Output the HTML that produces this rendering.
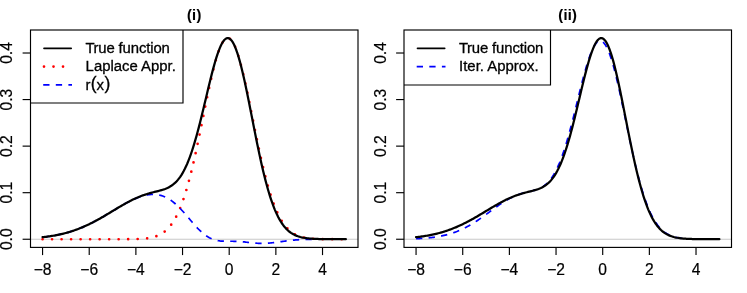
<!DOCTYPE html>
<html><head><meta charset="utf-8"><title>plot</title>
<style>
html,body{margin:0;padding:0;background:#fff;}
svg{display:block;will-change:transform;}
text{font-family:"Liberation Sans",sans-serif;fill:#000;stroke:#000;stroke-width:0.3px;}
.lg{font-size:14.9px;}
.ax{font-size:15.6px;stroke-width:0.2px;}
.ttl{font-size:14.5px;font-weight:bold;stroke-width:0.1px;letter-spacing:0.3px;}
.blk{fill:none;stroke:#000;stroke-width:2.25;stroke-linejoin:round;stroke-linecap:round;}
.red{fill:none;stroke:#ff0000;stroke-width:2.7;stroke-linecap:round;stroke-dasharray:0 9.51;stroke-linejoin:round;}
.blue{fill:none;stroke:#0000ff;stroke-width:1.7;stroke-linecap:butt;stroke-dasharray:6.3 6.3;stroke-linejoin:round;}
</style></head><body>
<svg width="747" height="293" viewBox="0 0 747 293">
<rect width="747" height="293" fill="#fff"/>
<line x1="30.5" y1="239.25" x2="358.0" y2="239.25" stroke="#bebebe" stroke-width="0.85"/>
<path d="M42.56 239.25 L43.73 239.25 L44.89 239.25 L46.06 239.25 L47.23 239.25 L48.39 239.25 L49.56 239.25 L50.73 239.25 L51.89 239.25 L53.06 239.25 L54.22 239.25 L55.39 239.25 L56.56 239.25 L57.72 239.25 L58.89 239.25 L60.06 239.25 L61.22 239.25 L62.39 239.25 L63.56 239.25 L64.72 239.25 L65.89 239.25 L67.06 239.25 L68.22 239.25 L69.39 239.25 L70.56 239.25 L71.72 239.25 L72.89 239.25 L74.06 239.25 L75.22 239.25 L76.39 239.25 L77.56 239.25 L78.72 239.25 L79.89 239.25 L81.05 239.25 L82.22 239.25 L83.39 239.25 L84.55 239.25 L85.72 239.25 L86.89 239.25 L88.05 239.25 L89.22 239.25 L90.39 239.25 L91.55 239.25 L92.72 239.25 L93.89 239.25 L95.05 239.25 L96.22 239.25 L97.39 239.25 L98.55 239.25 L99.72 239.25 L100.88 239.25 L102.05 239.25 L103.22 239.25 L104.38 239.25 L105.55 239.25 L106.72 239.25 L107.88 239.25 L109.05 239.25 L110.22 239.25 L111.38 239.25 L112.55 239.25 L113.72 239.25 L114.88 239.24 L116.05 239.24 L117.22 239.24 L118.38 239.24 L119.55 239.24 L120.72 239.23 L121.88 239.23 L123.05 239.23 L124.22 239.22 L125.38 239.21 L126.55 239.21 L127.71 239.20 L128.88 239.18 L130.05 239.17 L131.21 239.16 L132.38 239.14 L133.55 239.11 L134.71 239.09 L135.88 239.06 L137.05 239.02 L138.21 238.97 L139.38 238.92 L140.55 238.86 L141.71 238.79 L142.88 238.71 L144.05 238.62 L145.21 238.51 L146.38 238.38 L147.54 238.23 L148.71 238.07 L149.88 237.87 L151.04 237.65 L152.21 237.40 L153.38 237.12 L154.54 236.79 L155.71 236.43 L156.88 236.01 L158.04 235.55 L159.21 235.02 L160.38 234.43 L161.54 233.77 L162.71 233.04 L163.88 232.22 L165.04 231.31 L166.21 230.31 L167.38 229.20 L168.54 227.98 L169.71 226.64 L170.88 225.17 L172.04 223.56 L173.21 221.81 L174.37 219.91 L175.54 217.85 L176.71 215.62 L177.87 213.22 L179.04 210.63 L180.21 207.87 L181.37 204.91 L182.54 201.76 L183.71 198.41 L184.87 194.86 L186.04 191.10 L187.21 187.15 L188.37 183.00 L189.54 178.66 L190.71 174.12 L191.87 169.41 L193.04 164.51 L194.20 159.46 L195.37 154.25 L196.54 148.91 L197.70 143.44 L198.87 137.87 L200.04 132.22 L201.20 126.50 L202.37 120.75 L203.54 114.98 L204.70 109.22 L205.87 103.49 L207.04 97.83 L208.20 92.27 L209.37 86.82 L210.54 81.53 L211.70 76.42 L212.87 71.52 L214.04 66.86 L215.20 62.47 L216.37 58.37 L217.53 54.58 L218.70 51.14 L219.87 48.07 L221.03 45.38 L222.20 43.08 L223.37 41.21 L224.53 39.77 L225.70 38.76 L226.87 38.20 L228.03 38.09 L229.20 38.43 L230.37 39.21 L231.53 40.44 L232.70 42.10 L233.87 44.19 L235.03 46.68 L236.20 49.57 L237.37 52.83 L238.53 56.45 L239.70 60.39 L240.86 64.65 L242.03 69.18 L243.20 73.96 L244.36 78.97 L245.53 84.18 L246.70 89.55 L247.86 95.06 L249.03 100.67 L250.20 106.37 L251.36 112.12 L252.53 117.89 L253.70 123.65 L254.86 129.39 L256.03 135.08 L257.20 140.69 L258.36 146.21 L259.53 151.62 L260.70 156.89 L261.86 162.03 L263.03 167.00 L264.19 171.81 L265.36 176.43 L266.53 180.87 L267.69 185.12 L268.86 189.17 L270.03 193.02 L271.19 196.67 L272.36 200.12 L273.53 203.37 L274.69 206.42 L275.86 209.29 L277.03 211.96 L278.19 214.45 L279.36 216.76 L280.53 218.91 L281.69 220.89 L282.86 222.71 L284.03 224.39 L285.19 225.92 L286.36 227.33 L287.52 228.61 L288.69 229.77 L289.86 230.83 L291.02 231.78 L292.19 232.64 L293.36 233.42 L294.52 234.11 L295.69 234.74 L296.86 235.29 L298.02 235.79 L299.19 236.23 L300.36 236.62 L301.52 236.96 L302.69 237.27 L303.86 237.53 L305.02 237.77 L306.19 237.97 L307.36 238.15 L308.52 238.31 L309.69 238.45 L310.86 238.56 L312.02 238.67 L313.19 238.75 L314.35 238.83 L315.52 238.89 L316.69 238.95 L317.85 239.00 L319.02 239.04 L320.19 239.07 L321.35 239.10 L322.52 239.13 L323.69 239.15 L324.85 239.16 L326.02 239.18 L327.19 239.19 L328.35 239.20 L329.52 239.21 L330.69 239.22 L331.85 239.22 L333.02 239.23 L334.18 239.23 L335.35 239.24 L336.52 239.24 L337.68 239.24 L338.85 239.24 L340.02 239.24 L341.18 239.24 L342.35 239.25 L343.52 239.25 L344.68 239.25 L345.85 239.25" class="red"/>
<path d="M42.56 237.21 L43.73 237.08 L44.89 236.94 L46.06 236.80 L47.23 236.64 L48.39 236.48 L49.56 236.31 L50.73 236.14 L51.89 235.95 L53.06 235.76 L54.22 235.56 L55.39 235.34 L56.56 235.12 L57.72 234.89 L58.89 234.65 L60.06 234.39 L61.22 234.13 L62.39 233.86 L63.56 233.57 L64.72 233.27 L65.89 232.97 L67.06 232.65 L68.22 232.31 L69.39 231.97 L70.56 231.61 L71.72 231.24 L72.89 230.86 L74.06 230.47 L75.22 230.06 L76.39 229.64 L77.56 229.21 L78.72 228.76 L79.89 228.30 L81.05 227.83 L82.22 227.35 L83.39 226.85 L84.55 226.34 L85.72 225.82 L86.89 225.28 L88.05 224.73 L89.22 224.17 L90.39 223.60 L91.55 223.02 L92.72 222.43 L93.89 221.82 L95.05 221.21 L96.22 220.58 L97.39 219.95 L98.55 219.30 L99.72 218.65 L100.88 217.99 L102.05 217.32 L103.22 216.65 L104.38 215.97 L105.55 215.28 L106.72 214.59 L107.88 213.89 L109.05 213.19 L110.22 212.49 L111.38 211.79 L112.55 211.09 L113.72 210.38 L114.88 209.68 L116.05 208.98 L117.22 208.28 L118.38 207.59 L119.55 206.90 L120.72 206.22 L121.88 205.55 L123.05 204.88 L124.22 204.22 L125.38 203.57 L126.55 202.94 L127.71 202.31 L128.88 201.70 L130.05 201.11 L131.21 200.53 L132.38 199.97 L133.55 199.43 L134.71 198.91 L135.88 198.40 L137.05 197.93 L138.21 197.47 L139.38 197.04 L140.55 196.64 L141.71 196.26 L142.88 195.92 L144.05 195.60 L145.21 195.32 L146.38 195.07 L147.54 194.86 L148.71 194.69 L149.88 194.55 L151.04 194.45 L152.21 194.40 L153.38 194.38 L154.54 194.42 L155.71 194.49 L156.88 194.62 L158.04 194.80 L159.21 195.02 L160.38 195.30 L161.54 195.63 L162.71 196.02 L163.88 196.46 L165.04 196.96 L166.21 197.51 L167.38 198.12 L168.54 198.79 L169.71 199.52 L170.88 200.31 L172.04 201.15 L173.21 202.04 L174.37 203.00 L175.54 204.00 L176.71 205.06 L177.87 206.16 L179.04 207.31 L180.21 208.50 L181.37 209.73 L182.54 211.00 L183.71 212.30 L184.87 213.62 L186.04 214.96 L187.21 216.32 L188.37 217.69 L189.54 219.06 L190.71 220.44 L191.87 221.80 L193.04 223.15 L194.20 224.48 L195.37 225.79 L196.54 227.06 L197.70 228.30 L198.87 229.49 L200.04 230.64 L201.20 231.74 L202.37 232.78 L203.54 233.76 L204.70 234.68 L205.87 235.54 L207.04 236.33 L208.20 237.06 L209.37 237.71 L210.54 238.31 L211.70 238.83 L212.87 239.30 L214.04 239.70 L215.20 240.05 L216.37 240.34 L217.53 240.58 L218.70 240.78 L219.87 240.93 L221.03 241.05 L222.20 241.13 L223.37 241.19 L224.53 241.23 L225.70 241.25 L226.87 241.26 L228.03 241.26 L229.20 241.26 L230.37 241.26 L231.53 241.26 L232.70 241.27 L233.87 241.28 L235.03 241.31 L236.20 241.35 L237.37 241.40 L238.53 241.47 L239.70 241.54 L240.86 241.63 L242.03 241.74 L243.20 241.85 L244.36 241.97 L245.53 242.10 L246.70 242.23 L247.86 242.37 L249.03 242.50 L250.20 242.63 L251.36 242.76 L252.53 242.88 L253.70 243.00 L254.86 243.10 L256.03 243.19 L257.20 243.26 L258.36 243.32 L259.53 243.37 L260.70 243.39 L261.86 243.40 L263.03 243.40 L264.19 243.37 L265.36 243.33 L266.53 243.27 L267.69 243.20 L268.86 243.11 L270.03 243.00 L271.19 242.89 L272.36 242.76 L273.53 242.63 L274.69 242.48 L275.86 242.34 L277.03 242.18 L278.19 242.02 L279.36 241.86 L280.53 241.70 L281.69 241.54 L282.86 241.38 L284.03 241.22 L285.19 241.07 L286.36 240.92 L287.52 240.78 L288.69 240.64 L289.86 240.51 L291.02 240.39 L292.19 240.27 L293.36 240.16 L294.52 240.06 L295.69 239.96 L296.86 239.88 L298.02 239.80 L299.19 239.72 L300.36 239.66 L301.52 239.60 L302.69 239.54 L303.86 239.49 L305.02 239.45 L306.19 239.41 L307.36 239.38 L308.52 239.35 L309.69 239.32 L310.86 239.30 L312.02 239.28 L313.19 239.27 L314.35 239.25 L315.52 239.24 L316.69 239.23 L317.85 239.23 L319.02 239.22 L320.19 239.22 L321.35 239.21 L322.52 239.21 L323.69 239.21 L324.85 239.21 L326.02 239.21 L327.19 239.21 L328.35 239.21 L329.52 239.21 L330.69 239.21 L331.85 239.22 L333.02 239.22 L334.18 239.22 L335.35 239.22 L336.52 239.22 L337.68 239.23 L338.85 239.23 L340.02 239.23 L341.18 239.23 L342.35 239.23 L343.52 239.23 L344.68 239.23 L345.85 239.24" class="blue"/>
<path d="M42.56 237.21 L43.73 237.08 L44.89 236.94 L46.06 236.80 L47.23 236.64 L48.39 236.48 L49.56 236.31 L50.73 236.14 L51.89 235.95 L53.06 235.76 L54.22 235.56 L55.39 235.34 L56.56 235.12 L57.72 234.89 L58.89 234.65 L60.06 234.39 L61.22 234.13 L62.39 233.86 L63.56 233.57 L64.72 233.27 L65.89 232.97 L67.06 232.65 L68.22 232.31 L69.39 231.97 L70.56 231.61 L71.72 231.24 L72.89 230.86 L74.06 230.47 L75.22 230.06 L76.39 229.64 L77.56 229.21 L78.72 228.76 L79.89 228.30 L81.05 227.83 L82.22 227.35 L83.39 226.85 L84.55 226.34 L85.72 225.82 L86.89 225.28 L88.05 224.73 L89.22 224.17 L90.39 223.60 L91.55 223.02 L92.72 222.43 L93.89 221.82 L95.05 221.21 L96.22 220.58 L97.39 219.95 L98.55 219.30 L99.72 218.65 L100.88 217.99 L102.05 217.32 L103.22 216.65 L104.38 215.97 L105.55 215.28 L106.72 214.59 L107.88 213.89 L109.05 213.19 L110.22 212.49 L111.38 211.79 L112.55 211.08 L113.72 210.38 L114.88 209.68 L116.05 208.97 L117.22 208.28 L118.38 207.58 L119.55 206.89 L120.72 206.20 L121.88 205.53 L123.05 204.85 L124.22 204.19 L125.38 203.54 L126.55 202.89 L127.71 202.26 L128.88 201.64 L130.05 201.03 L131.21 200.44 L132.38 199.85 L133.55 199.29 L134.71 198.74 L135.88 198.21 L137.05 197.69 L138.21 197.19 L139.38 196.71 L140.55 196.25 L141.71 195.80 L142.88 195.37 L144.05 194.96 L145.21 194.57 L146.38 194.20 L147.54 193.84 L148.71 193.49 L149.88 193.16 L151.04 192.84 L152.21 192.53 L153.38 192.23 L154.54 191.93 L155.71 191.64 L156.88 191.35 L158.04 191.05 L159.21 190.75 L160.38 190.43 L161.54 190.10 L162.71 189.74 L163.88 189.36 L165.04 188.94 L166.21 188.48 L167.38 187.97 L168.54 187.41 L169.71 186.78 L170.88 186.08 L172.04 185.30 L173.21 184.43 L174.37 183.46 L175.54 182.38 L176.71 181.19 L177.87 179.87 L179.04 178.41 L180.21 176.81 L181.37 175.05 L182.54 173.13 L183.71 171.04 L184.87 168.78 L186.04 166.34 L187.21 163.70 L188.37 160.88 L189.54 157.87 L190.71 154.66 L191.87 151.26 L193.04 147.67 L194.20 143.89 L195.37 139.94 L196.54 135.82 L197.70 131.53 L198.87 127.10 L200.04 122.54 L201.20 117.86 L202.37 113.09 L203.54 108.25 L204.70 103.35 L205.87 98.42 L207.04 93.50 L208.20 88.60 L209.37 83.76 L210.54 79.01 L211.70 74.38 L212.87 69.89 L214.04 65.59 L215.20 61.50 L216.37 57.65 L217.53 54.07 L218.70 50.79 L219.87 47.84 L221.03 45.23 L222.20 43.01 L223.37 41.17 L224.53 39.75 L225.70 38.76 L226.87 38.20 L228.03 38.09 L229.20 38.43 L230.37 39.22 L231.53 40.46 L232.70 42.15 L233.87 44.27 L235.03 46.82 L236.20 49.77 L237.37 53.12 L238.53 56.84 L239.70 60.90 L240.86 65.29 L242.03 69.97 L243.20 74.91 L244.36 80.09 L245.53 85.48 L246.70 91.03 L247.86 96.73 L249.03 102.54 L250.20 108.42 L251.36 114.36 L252.53 120.30 L253.70 126.24 L254.86 132.14 L256.03 137.97 L257.20 143.72 L258.36 149.35 L259.53 154.86 L260.70 160.21 L261.86 165.41 L263.03 170.42 L264.19 175.25 L265.36 179.88 L266.53 184.31 L267.69 188.52 L268.86 192.53 L270.03 196.31 L271.19 199.88 L272.36 203.24 L273.53 206.39 L274.69 209.33 L275.86 212.07 L277.03 214.62 L278.19 216.97 L279.36 219.15 L280.53 221.15 L281.69 222.99 L282.86 224.67 L284.03 226.21 L285.19 227.61 L286.36 228.88 L287.52 230.03 L288.69 231.07 L289.86 232.00 L291.02 232.84 L292.19 233.60 L293.36 234.27 L294.52 234.87 L295.69 235.41 L296.86 235.88 L298.02 236.30 L299.19 236.67 L300.36 237.00 L301.52 237.29 L302.69 237.54 L303.86 237.76 L305.02 237.95 L306.19 238.12 L307.36 238.27 L308.52 238.40 L309.69 238.51 L310.86 238.61 L312.02 238.69 L313.19 238.76 L314.35 238.83 L315.52 238.88 L316.69 238.93 L317.85 238.97 L319.02 239.01 L320.19 239.04 L321.35 239.06 L322.52 239.09 L323.69 239.11 L324.85 239.12 L326.02 239.14 L327.19 239.15 L328.35 239.16 L329.52 239.17 L330.69 239.18 L331.85 239.19 L333.02 239.20 L334.18 239.20 L335.35 239.21 L336.52 239.21 L337.68 239.22 L338.85 239.22 L340.02 239.22 L341.18 239.23 L342.35 239.23 L343.52 239.23 L344.68 239.23 L345.85 239.23" class="blk"/>
<rect x="30.5" y="30.0" width="152.50" height="73.00" fill="#fff"/>
<path d="M183.00 30.0 V103.00 H30.5" fill="none" stroke="#000" stroke-width="1.15"/>
<line x1="44.0" y1="48.30" x2="71.2" y2="48.30" stroke="#000" stroke-width="1.7" stroke-linecap="round"/>
<text class="lg" x="85.6" y="53.4">T<tspan dx="-1.3" style="letter-spacing:-0.12px">rue function</tspan></text>
<line x1="44.0" y1="66.60" x2="71.2" y2="66.60" class="red"/>
<text class="lg" x="85.6" y="70.7">Laplace Appr.</text>
<line x1="43.2" y1="84.90" x2="72.0" y2="84.90" class="blue"/>
<text class="lg" x="85.6" y="89.9">r</text>
<text class="lg" x="90.65" y="89.20" style="font-size:17.5px">(</text>
<text class="lg" x="96.50" y="89.9">x</text>
<text class="lg" x="104.50" y="89.20" style="font-size:17.5px">)</text>
<rect x="30.5" y="30.0" width="327.50" height="217.40" fill="none" stroke="#000" stroke-width="1.15"/>
<line x1="42.56" y1="247.4" x2="42.56" y2="255.1" stroke="#000" stroke-width="1.15"/>
<text class="ax" x="42.56" y="274.6" text-anchor="middle">−8</text>
<line x1="89.22" y1="247.4" x2="89.22" y2="255.1" stroke="#000" stroke-width="1.15"/>
<text class="ax" x="89.22" y="274.6" text-anchor="middle">−6</text>
<line x1="135.88" y1="247.4" x2="135.88" y2="255.1" stroke="#000" stroke-width="1.15"/>
<text class="ax" x="135.88" y="274.6" text-anchor="middle">−4</text>
<line x1="182.54" y1="247.4" x2="182.54" y2="255.1" stroke="#000" stroke-width="1.15"/>
<text class="ax" x="182.54" y="274.6" text-anchor="middle">−2</text>
<line x1="229.20" y1="247.4" x2="229.20" y2="255.1" stroke="#000" stroke-width="1.15"/>
<text class="ax" x="229.20" y="274.6" text-anchor="middle">0</text>
<line x1="275.86" y1="247.4" x2="275.86" y2="255.1" stroke="#000" stroke-width="1.15"/>
<text class="ax" x="275.86" y="274.6" text-anchor="middle">2</text>
<line x1="322.52" y1="247.4" x2="322.52" y2="255.1" stroke="#000" stroke-width="1.15"/>
<text class="ax" x="322.52" y="274.6" text-anchor="middle">4</text>
<line x1="22.6" y1="239.25" x2="30.5" y2="239.25" stroke="#000" stroke-width="1.15"/>
<text class="ax" transform="translate(12.2,239.25) rotate(-90)" text-anchor="middle">0.0</text>
<line x1="22.6" y1="192.69" x2="30.5" y2="192.69" stroke="#000" stroke-width="1.15"/>
<text class="ax" transform="translate(12.2,192.69) rotate(-90)" text-anchor="middle">0.1</text>
<line x1="22.6" y1="146.13" x2="30.5" y2="146.13" stroke="#000" stroke-width="1.15"/>
<text class="ax" transform="translate(12.2,146.13) rotate(-90)" text-anchor="middle">0.2</text>
<line x1="22.6" y1="99.57" x2="30.5" y2="99.57" stroke="#000" stroke-width="1.15"/>
<text class="ax" transform="translate(12.2,99.57) rotate(-90)" text-anchor="middle">0.3</text>
<line x1="22.6" y1="53.01" x2="30.5" y2="53.01" stroke="#000" stroke-width="1.15"/>
<text class="ax" transform="translate(12.2,53.01) rotate(-90)" text-anchor="middle">0.4</text>
<text class="ttl" x="194.25" y="19.5" text-anchor="middle">(i)</text>
<line x1="404.0" y1="239.25" x2="731.5" y2="239.25" stroke="#bebebe" stroke-width="0.85"/>
<path d="M416.06 238.71 L417.23 238.66 L418.39 238.60 L419.56 238.54 L420.73 238.47 L421.89 238.40 L423.06 238.32 L424.23 238.24 L425.39 238.15 L426.56 238.05 L427.73 237.94 L428.89 237.83 L430.06 237.71 L431.22 237.58 L432.39 237.44 L433.56 237.29 L434.72 237.13 L435.89 236.96 L437.06 236.78 L438.22 236.59 L439.39 236.38 L440.56 236.17 L441.72 235.94 L442.89 235.69 L444.06 235.43 L445.22 235.16 L446.39 234.87 L447.56 234.57 L448.72 234.24 L449.89 233.91 L451.06 233.55 L452.22 233.18 L453.39 232.79 L454.55 232.38 L455.72 231.95 L456.89 231.51 L458.05 231.04 L459.22 230.56 L460.39 230.05 L461.55 229.53 L462.72 228.98 L463.89 228.42 L465.05 227.84 L466.22 227.23 L467.39 226.61 L468.55 225.97 L469.72 225.31 L470.89 224.63 L472.05 223.93 L473.22 223.22 L474.38 222.49 L475.55 221.74 L476.72 220.98 L477.88 220.20 L479.05 219.41 L480.22 218.61 L481.38 217.79 L482.55 216.97 L483.72 216.13 L484.88 215.29 L486.05 214.44 L487.22 213.59 L488.38 212.73 L489.55 211.87 L490.72 211.02 L491.88 210.16 L493.05 209.30 L494.22 208.46 L495.38 207.61 L496.55 206.78 L497.72 205.95 L498.88 205.14 L500.05 204.34 L501.21 203.56 L502.38 202.79 L503.55 202.04 L504.71 201.31 L505.88 200.61 L507.05 199.92 L508.21 199.26 L509.38 198.62 L510.55 198.01 L511.71 197.43 L512.88 196.87 L514.05 196.34 L515.21 195.84 L516.38 195.37 L517.55 194.92 L518.71 194.50 L519.88 194.10 L521.04 193.73 L522.21 193.37 L523.38 193.04 L524.54 192.73 L525.71 192.43 L526.88 192.14 L528.04 191.86 L529.21 191.58 L530.38 191.30 L531.54 191.02 L532.71 190.72 L533.88 190.40 L535.04 190.06 L536.21 189.69 L537.38 189.28 L538.54 188.82 L539.71 188.31 L540.88 187.73 L542.04 187.08 L543.21 186.35 L544.38 185.53 L545.54 184.61 L546.71 183.59 L547.87 182.44 L549.04 181.17 L550.21 179.76 L551.37 178.21 L552.54 176.50 L553.71 174.64 L554.87 172.61 L556.04 170.41 L557.21 168.03 L558.37 165.47 L559.54 162.73 L560.71 159.80 L561.87 156.69 L563.04 153.40 L564.21 149.92 L565.37 146.27 L566.54 142.45 L567.70 138.47 L568.87 134.35 L570.04 130.08 L571.20 125.69 L572.37 121.19 L573.54 116.60 L574.70 111.94 L575.87 107.23 L577.04 102.49 L578.20 97.74 L579.37 93.02 L580.54 88.34 L581.70 83.73 L582.87 79.22 L584.04 74.84 L585.20 70.61 L586.37 66.57 L587.54 62.73 L588.70 59.13 L589.87 55.79 L591.03 52.73 L592.20 49.98 L593.37 47.56 L594.53 45.49 L595.70 43.78 L596.87 42.45 L598.03 41.51 L599.20 40.97 L600.37 40.84 L601.53 41.12 L602.70 41.81 L603.87 42.91 L605.03 44.41 L606.20 46.32 L607.37 48.61 L608.53 51.28 L609.70 54.30 L610.87 57.68 L612.03 61.37 L613.20 65.37 L614.37 69.64 L615.53 74.17 L616.70 78.93 L617.86 83.90 L619.03 89.04 L620.20 94.32 L621.36 99.73 L622.53 105.23 L623.70 110.80 L624.86 116.41 L626.03 122.03 L627.20 127.64 L628.36 133.22 L629.53 138.74 L630.70 144.19 L631.86 149.54 L633.03 154.77 L634.20 159.88 L635.36 164.84 L636.53 169.65 L637.69 174.29 L638.86 178.76 L640.03 183.04 L641.19 187.14 L642.36 191.05 L643.53 194.76 L644.69 198.28 L645.86 201.60 L647.03 204.73 L648.19 207.67 L649.36 210.43 L650.53 213.00 L651.69 215.40 L652.86 217.62 L654.03 219.69 L655.19 221.59 L656.36 223.34 L657.53 224.96 L658.69 226.43 L659.86 227.79 L661.02 229.02 L662.19 230.14 L663.36 231.15 L664.52 232.07 L665.69 232.90 L666.86 233.64 L668.02 234.31 L669.19 234.91 L670.36 235.44 L671.52 235.92 L672.69 236.34 L673.86 236.72 L675.02 237.05 L676.19 237.34 L677.36 237.60 L678.52 237.82 L679.69 238.02 L680.86 238.19 L682.02 238.34 L683.19 238.48 L684.36 238.59 L685.52 238.69 L686.69 238.77 L687.85 238.84 L689.02 238.91 L690.19 238.96 L691.35 239.01 L692.52 239.04 L693.69 239.08 L694.85 239.11 L696.02 239.13 L697.19 239.15 L698.35 239.17 L699.52 239.18 L700.69 239.19 L701.85 239.20 L703.02 239.21 L704.19 239.22 L705.35 239.22 L706.52 239.23 L707.68 239.23 L708.85 239.24 L710.02 239.24 L711.18 239.24 L712.35 239.24 L713.52 239.24 L714.68 239.25 L715.85 239.25 L717.02 239.25 L718.18 239.25 L719.35 239.25" class="blue"/>
<path d="M416.06 237.21 L417.23 237.08 L418.39 236.94 L419.56 236.80 L420.73 236.64 L421.89 236.48 L423.06 236.31 L424.23 236.14 L425.39 235.95 L426.56 235.76 L427.73 235.56 L428.89 235.34 L430.06 235.12 L431.22 234.89 L432.39 234.65 L433.56 234.39 L434.72 234.13 L435.89 233.86 L437.06 233.57 L438.22 233.27 L439.39 232.97 L440.56 232.65 L441.72 232.31 L442.89 231.97 L444.06 231.61 L445.22 231.24 L446.39 230.86 L447.56 230.47 L448.72 230.06 L449.89 229.64 L451.06 229.21 L452.22 228.76 L453.39 228.30 L454.55 227.83 L455.72 227.35 L456.89 226.85 L458.05 226.34 L459.22 225.82 L460.39 225.28 L461.55 224.73 L462.72 224.17 L463.89 223.60 L465.05 223.02 L466.22 222.43 L467.39 221.82 L468.55 221.21 L469.72 220.58 L470.89 219.95 L472.05 219.30 L473.22 218.65 L474.38 217.99 L475.55 217.32 L476.72 216.65 L477.88 215.97 L479.05 215.28 L480.22 214.59 L481.38 213.89 L482.55 213.19 L483.72 212.49 L484.88 211.79 L486.05 211.08 L487.22 210.38 L488.38 209.68 L489.55 208.97 L490.72 208.28 L491.88 207.58 L493.05 206.89 L494.22 206.20 L495.38 205.53 L496.55 204.85 L497.72 204.19 L498.88 203.54 L500.05 202.89 L501.21 202.26 L502.38 201.64 L503.55 201.03 L504.71 200.44 L505.88 199.85 L507.05 199.29 L508.21 198.74 L509.38 198.21 L510.55 197.69 L511.71 197.19 L512.88 196.71 L514.05 196.25 L515.21 195.80 L516.38 195.37 L517.55 194.96 L518.71 194.57 L519.88 194.20 L521.04 193.84 L522.21 193.49 L523.38 193.16 L524.54 192.84 L525.71 192.53 L526.88 192.23 L528.04 191.93 L529.21 191.64 L530.38 191.35 L531.54 191.05 L532.71 190.75 L533.88 190.43 L535.04 190.10 L536.21 189.74 L537.38 189.36 L538.54 188.94 L539.71 188.48 L540.88 187.97 L542.04 187.41 L543.21 186.78 L544.38 186.08 L545.54 185.30 L546.71 184.43 L547.87 183.46 L549.04 182.38 L550.21 181.19 L551.37 179.87 L552.54 178.41 L553.71 176.81 L554.87 175.05 L556.04 173.13 L557.21 171.04 L558.37 168.78 L559.54 166.34 L560.71 163.70 L561.87 160.88 L563.04 157.87 L564.21 154.66 L565.37 151.26 L566.54 147.67 L567.70 143.89 L568.87 139.94 L570.04 135.82 L571.20 131.53 L572.37 127.10 L573.54 122.54 L574.70 117.86 L575.87 113.09 L577.04 108.25 L578.20 103.35 L579.37 98.42 L580.54 93.50 L581.70 88.60 L582.87 83.76 L584.04 79.01 L585.20 74.38 L586.37 69.89 L587.54 65.59 L588.70 61.50 L589.87 57.65 L591.03 54.07 L592.20 50.79 L593.37 47.84 L594.53 45.23 L595.70 43.01 L596.87 41.17 L598.03 39.75 L599.20 38.76 L600.37 38.20 L601.53 38.09 L602.70 38.43 L603.87 39.22 L605.03 40.46 L606.20 42.15 L607.37 44.27 L608.53 46.82 L609.70 49.77 L610.87 53.12 L612.03 56.84 L613.20 60.90 L614.37 65.29 L615.53 69.97 L616.70 74.91 L617.86 80.09 L619.03 85.48 L620.20 91.03 L621.36 96.73 L622.53 102.54 L623.70 108.42 L624.86 114.36 L626.03 120.30 L627.20 126.24 L628.36 132.14 L629.53 137.97 L630.70 143.72 L631.86 149.35 L633.03 154.86 L634.20 160.21 L635.36 165.41 L636.53 170.42 L637.69 175.25 L638.86 179.88 L640.03 184.31 L641.19 188.52 L642.36 192.53 L643.53 196.31 L644.69 199.88 L645.86 203.24 L647.03 206.39 L648.19 209.33 L649.36 212.07 L650.53 214.62 L651.69 216.97 L652.86 219.15 L654.03 221.15 L655.19 222.99 L656.36 224.67 L657.53 226.21 L658.69 227.61 L659.86 228.88 L661.02 230.03 L662.19 231.07 L663.36 232.00 L664.52 232.84 L665.69 233.60 L666.86 234.27 L668.02 234.87 L669.19 235.41 L670.36 235.88 L671.52 236.30 L672.69 236.67 L673.86 237.00 L675.02 237.29 L676.19 237.54 L677.36 237.76 L678.52 237.95 L679.69 238.12 L680.86 238.27 L682.02 238.40 L683.19 238.51 L684.36 238.61 L685.52 238.69 L686.69 238.76 L687.85 238.83 L689.02 238.88 L690.19 238.93 L691.35 238.97 L692.52 239.01 L693.69 239.04 L694.85 239.06 L696.02 239.09 L697.19 239.11 L698.35 239.12 L699.52 239.14 L700.69 239.15 L701.85 239.16 L703.02 239.17 L704.19 239.18 L705.35 239.19 L706.52 239.20 L707.68 239.20 L708.85 239.21 L710.02 239.21 L711.18 239.22 L712.35 239.22 L713.52 239.22 L714.68 239.23 L715.85 239.23 L717.02 239.23 L718.18 239.23 L719.35 239.23" class="blk"/>
<rect x="404.0" y="30.0" width="146.50" height="55.00" fill="#fff"/>
<path d="M550.50 30.0 V85.00 H404.0" fill="none" stroke="#000" stroke-width="1.15"/>
<line x1="417.5" y1="48.30" x2="444.7" y2="48.30" stroke="#000" stroke-width="1.7" stroke-linecap="round"/>
<text class="lg" x="459.1" y="53.4">T<tspan dx="-1.3" style="letter-spacing:-0.12px">rue function</tspan></text>
<line x1="416.7" y1="66.60" x2="445.5" y2="66.60" class="blue"/>
<text class="lg" x="459.1" y="70.7">Iter. Approx.</text>
<rect x="404.0" y="30.0" width="327.50" height="217.40" fill="none" stroke="#000" stroke-width="1.15"/>
<line x1="416.06" y1="247.4" x2="416.06" y2="255.1" stroke="#000" stroke-width="1.15"/>
<text class="ax" x="416.06" y="274.6" text-anchor="middle">−8</text>
<line x1="462.72" y1="247.4" x2="462.72" y2="255.1" stroke="#000" stroke-width="1.15"/>
<text class="ax" x="462.72" y="274.6" text-anchor="middle">−6</text>
<line x1="509.38" y1="247.4" x2="509.38" y2="255.1" stroke="#000" stroke-width="1.15"/>
<text class="ax" x="509.38" y="274.6" text-anchor="middle">−4</text>
<line x1="556.04" y1="247.4" x2="556.04" y2="255.1" stroke="#000" stroke-width="1.15"/>
<text class="ax" x="556.04" y="274.6" text-anchor="middle">−2</text>
<line x1="602.70" y1="247.4" x2="602.70" y2="255.1" stroke="#000" stroke-width="1.15"/>
<text class="ax" x="602.70" y="274.6" text-anchor="middle">0</text>
<line x1="649.36" y1="247.4" x2="649.36" y2="255.1" stroke="#000" stroke-width="1.15"/>
<text class="ax" x="649.36" y="274.6" text-anchor="middle">2</text>
<line x1="696.02" y1="247.4" x2="696.02" y2="255.1" stroke="#000" stroke-width="1.15"/>
<text class="ax" x="696.02" y="274.6" text-anchor="middle">4</text>
<line x1="396.1" y1="239.25" x2="404.0" y2="239.25" stroke="#000" stroke-width="1.15"/>
<text class="ax" transform="translate(385.7,239.25) rotate(-90)" text-anchor="middle">0.0</text>
<line x1="396.1" y1="192.69" x2="404.0" y2="192.69" stroke="#000" stroke-width="1.15"/>
<text class="ax" transform="translate(385.7,192.69) rotate(-90)" text-anchor="middle">0.1</text>
<line x1="396.1" y1="146.13" x2="404.0" y2="146.13" stroke="#000" stroke-width="1.15"/>
<text class="ax" transform="translate(385.7,146.13) rotate(-90)" text-anchor="middle">0.2</text>
<line x1="396.1" y1="99.57" x2="404.0" y2="99.57" stroke="#000" stroke-width="1.15"/>
<text class="ax" transform="translate(385.7,99.57) rotate(-90)" text-anchor="middle">0.3</text>
<line x1="396.1" y1="53.01" x2="404.0" y2="53.01" stroke="#000" stroke-width="1.15"/>
<text class="ax" transform="translate(385.7,53.01) rotate(-90)" text-anchor="middle">0.4</text>
<text class="ttl" x="567.75" y="19.5" text-anchor="middle">(ii)</text>
</svg>
</body></html>
